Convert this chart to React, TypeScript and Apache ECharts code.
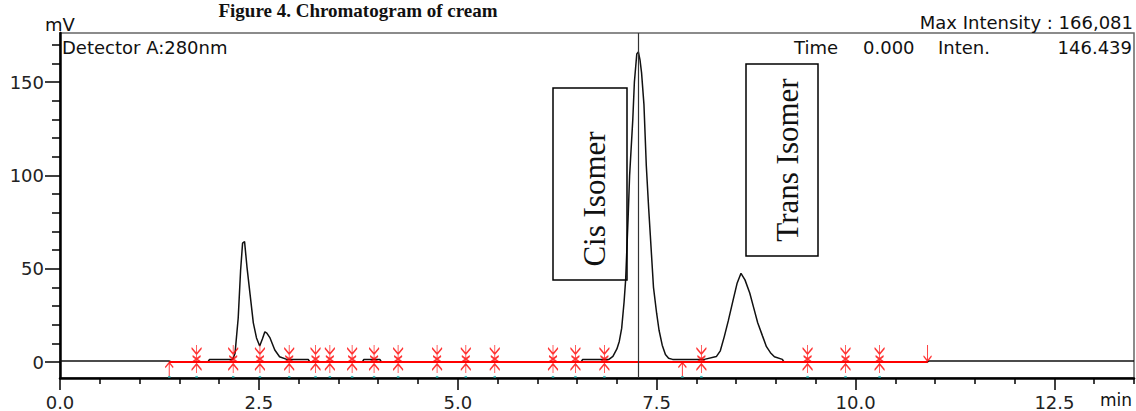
import React, { useEffect, useRef } from "react";
import * as echarts from "echarts";

// Chromatogram trace (time in min, signal in mV)
const traceTime = [
  0.0, 1.37, 1.4, 1.86, 1.88, 2.17, 2.2, 2.24, 2.27, 2.295, 2.32, 2.35, 2.39, 2.43, 2.47, 2.51,
  2.545, 2.575, 2.6, 2.64, 2.7, 2.76, 2.85, 3.12, 3.14, 3.8, 3.82, 4.02, 4.04, 6.55, 6.57, 6.9,
  6.95, 7.0, 7.03, 7.06, 7.09, 7.11, 7.14, 7.16, 7.2, 7.22, 7.25, 7.27, 7.29, 7.31, 7.34, 7.37,
  7.4, 7.42, 7.46, 7.5, 7.53, 7.57, 7.61, 7.65, 7.7, 8.1, 8.25, 8.3, 8.35, 8.4, 8.46, 8.51,
  8.56, 8.61, 8.67, 8.72, 8.77, 8.83, 8.88, 8.93, 8.98, 9.08, 9.1, 10.9, 10.92, 13.5,
];
const traceMv = [
  0.5, 0.5, 0.0, 0.0, 1.4, 1.4, 4.6, 23.6, 49, 63.7, 64.5, 51, 36, 21, 12.9, 8.6,
  12.5, 16.2, 15.5, 12.9, 6.4, 2.8, 1.4, 1.4, 0, 0, 1.4, 1.4, 0, 0, 1.4, 1.4,
  3, 7, 11, 18, 32, 44, 76, 100, 130, 150, 165, 166.1, 162, 155, 138, 105,
  82, 68, 40, 26, 17, 9, 4, 2, 1.4, 1.4, 2.9, 6, 13.6, 22, 33, 42,
  47.5, 44, 37, 29, 21, 14, 8.2, 5, 2.8, 1.4, 0, 0, 0.5, 0.5,
];

// Integration markers (min)
const asteriskTimes = [
  1.717, 2.177, 2.513, 2.881, 3.212, 3.392, 3.672, 3.948, 4.25, 4.74, 5.101, 5.465, 6.197,
  6.479, 6.843, 8.062, 9.397, 9.874, 10.302,
];
const upArrowTimes = [1.373, 7.823];
const downArrowTimes = [10.905];
const baselineTimes = [1.373, 10.905];
const cursorTime = 7.269;

// Axis ticks
const xMajor = [0, 2.5, 5, 7.5, 10, 12.5];
const xMinor = [0.5, 1, 1.5, 2, 3, 3.5, 4, 4.5, 5.5, 6, 6.5, 7, 8, 8.5, 9, 9.5, 10.5, 11, 11.5, 12, 13, 13.5];
const yMajor = [0, 50, 100, 150];
const yMinor = [10, 20, 30, 40, 60, 70, 80, 90, 110, 120, 130, 140, 160, 170];

// Header texts
const titleText = "Figure 4. Chromatogram of cream";
const detectorText = "Detector A:280nm";
const maxIntensityText = "Max Intensity : 166,081";
const headerTime = "Time";
const headerTimeValue = "0.000";
const headerInten = "Inten.";
const headerIntenValue = "146.439";
const peakLabels = ["Cis Isomer", "Trans Isomer"];

const SANS = "DejaVu Sans";
const SERIF = "Liberation Serif";

export default function App() {
  const ref = useRef<HTMLDivElement>(null);

  useEffect(() => {
    if (!ref.current) return;
    const chart = echarts.init(ref.current, undefined, { renderer: "svg" });

    const trace = traceTime.map((t, i) => [t, traceMv[i]]);
    const xMin = 0;
    const xMax = 13.5;
    const yMin = -8.57;
    const yMax = 176.25;

    const strokeSym = { color: "transparent", borderColor: "#ff0000", borderWidth: 1.3 };
    const txt = (text: string, x: number, y: number, align: string, font: string, extra: any = {}) => ({
      type: "text",
      x,
      y,
      silent: true,
      ...extra,
      style: { text, font, fill: "#111", textAlign: align, textVerticalAlign: "middle" },
    });

    chart.setOption({
      animation: false,
      backgroundColor: "#ffffff",
      grid: {
        left: 60,
        right: 2,
        top: 33,
        bottom: 33,
        show: true,
        borderColor: "#666",
        borderWidth: 1.5,
        backgroundColor: "transparent",
      },
      xAxis: [
        {
          type: "value",
          min: xMin,
          max: xMax,
          position: "bottom",
          axisLine: { show: true, onZero: false, lineStyle: { color: "#000", width: 2.5 } },
          axisTick: { show: true, customValues: xMajor, length: 12, lineStyle: { color: "#000", width: 1.5 } },
          axisLabel: {
            show: true,
            customValues: xMajor,
            formatter: (v: number) => v.toFixed(1),
            fontFamily: SANS,
            fontSize: 18,
            color: "#222",
            margin: 15,
          },
          splitLine: { show: false },
        },
        {
          type: "value",
          min: xMin,
          max: xMax,
          position: "bottom",
          axisLine: { show: false, onZero: false },
          axisTick: { show: true, customValues: xMinor, length: 6, lineStyle: { color: "#000", width: 1.5 } },
          axisLabel: { show: false },
          splitLine: { show: false },
        },
      ],
      yAxis: [
        {
          type: "value",
          min: yMin,
          max: yMax,
          position: "left",
          axisLine: { show: true, onZero: false, lineStyle: { color: "#000", width: 2.5 } },
          axisTick: { show: true, customValues: yMajor, length: 15, lineStyle: { color: "#000", width: 1.5 } },
          axisLabel: {
            show: true,
            customValues: yMajor,
            fontFamily: SANS,
            fontSize: 18,
            color: "#222",
            margin: 16,
          },
          splitLine: { show: false },
        },
        {
          type: "value",
          min: yMin,
          max: yMax,
          position: "left",
          axisLine: { show: false, onZero: false },
          axisTick: { show: true, customValues: yMinor, length: 8, lineStyle: { color: "#000", width: 1.5 } },
          axisLabel: { show: false },
          splitLine: { show: false },
        },
      ],
      series: [
        {
          type: "line",
          data: trace,
          showSymbol: false,
          lineStyle: { color: "#111", width: 1.5 },
          z: 2,
          markLine: {
            silent: true,
            symbol: "none",
            label: { show: false },
            lineStyle: { color: "#333", width: 1.2, type: "solid" },
            data: [{ xAxis: cursorTime }],
          },
        },
        {
          type: "line",
          data: baselineTimes.map((t) => [t, 0]),
          showSymbol: false,
          lineStyle: { color: "#ff0000", width: 2 },
          z: 3,
        },
        {
          type: "scatter",
          data: asteriskTimes.map((t) => [t, 1.6]),
          symbol: "path://M5 0L5 28M0 3L5 9L10 3M0 25L5 19L10 25M1 11L5 14L9 11M1 17L5 14L9 17",
          symbolSize: [10, 28],
          itemStyle: strokeSym,
          z: 4,
        },
        {
          type: "scatter",
          data: upArrowTimes.map((t) => [t, -4.3]),
          symbol: "path://M4 0L4 15M0 5L4 0L8 5",
          symbolSize: [8, 15],
          itemStyle: strokeSym,
          z: 4,
        },
        {
          type: "scatter",
          data: downArrowTimes.map((t) => [t, 4.8]),
          symbol: "path://M4 0L4 16M0 11L4 16L8 11",
          symbolSize: [8, 16],
          itemStyle: strokeSym,
          z: 4,
        },
        {
          type: "scatter",
          data: [...upArrowTimes, ...asteriskTimes].map((t) => [t, -8.0]),
          symbol: "rect",
          symbolSize: [2.5, 2],
          itemStyle: { color: "#1fa6a6" },
          z: 5,
        },
      ],
      graphic: [
        txt(titleText, 358, 10.5, "center", `bold 19px '${SERIF}'`),
        txt("mV", 60, 24, "center", `18px '${SANS}'`),
        txt(detectorText, 62, 47, "left", `18px '${SANS}'`),
        txt(maxIntensityText, 1133, 22, "right", `18px '${SANS}'`),
        txt(headerTime, 794, 47, "left", `18px '${SANS}'`),
        txt(headerTimeValue, 863, 47, "left", `18px '${SANS}'`),
        txt(headerInten, 938, 47, "left", `18px '${SANS}'`),
        txt(headerIntenValue, 1132, 47, "right", `18px '${SANS}'`),
        txt("min", 1132, 400, "right", `17px '${SANS}'`),
        {
          type: "rect",
          silent: true,
          shape: { x: 553, y: 88, width: 74, height: 192 },
          style: { fill: "none", stroke: "#000", lineWidth: 1.5 },
          z: 10,
        },
        {
          type: "rect",
          silent: true,
          shape: { x: 746, y: 64, width: 72, height: 192 },
          style: { fill: "none", stroke: "#000", lineWidth: 1.5 },
          z: 10,
        },
        txt(peakLabels[0], 594, 199, "center", `31px '${SERIF}'`, { rotation: Math.PI / 2, z: 11 }),
        txt(peakLabels[1], 787, 160, "center", `31px '${SERIF}'`, { rotation: Math.PI / 2, z: 11 }),
      ],
    });

    return () => chart.dispose();
  }, []);

  return (
    <div
      ref={ref}
      style={{ position: "fixed", left: 0, top: 0, width: 1136, height: 411, background: "#fff" }}
    />
  );
}
